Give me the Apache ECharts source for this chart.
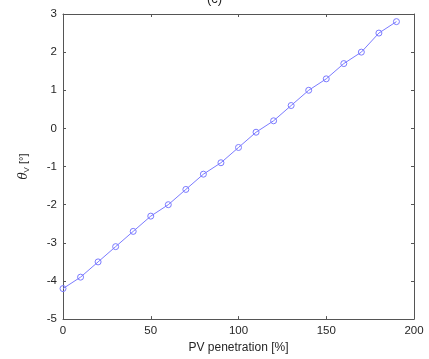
<!DOCTYPE html>
<html><head><meta charset="utf-8">
<script src="https://cdn.jsdelivr.net/npm/echarts@6/dist/echarts.min.js"></script>
<style>html,body{margin:0;padding:0;background:#fff}#c{width:429px;height:359px}</style>
</head><body><div id="c"></div>
<script>
const penetration = [0,10,20,30,40,50,60,70,80,90,100,110,120,130,140,150,160,170,180,190];
const thetaV = [-4.2,-3.9,-3.5,-3.1,-2.7,-2.3,-2.0,-1.6,-1.2,-0.9,-0.5,-0.1,0.2,0.6,1.0,1.3,1.7,2.0,2.5,2.8];
const xTicks = [0,50,100,150,200];
const yTicks = [-5,-4,-3,-2,-1,0,1,2,3];

const chart = echarts.init(document.getElementById('c'), null, {renderer:'canvas'});
const axisCol = '#555555';
const txtCol = '#262626';
const font = 'Liberation Sans, Arial, sans-serif';
const baseX = {
  type:'value', min:xTicks[0], max:xTicks[xTicks.length-1], interval:50,
  axisLine:{show:true, onZero:false, lineStyle:{color:axisCol, width:1}},
  axisTick:{show:true, inside:true, length:3, lineStyle:{color:axisCol}},
  splitLine:{show:false}
};
const baseY = {
  type:'value', min:yTicks[0], max:yTicks[yTicks.length-1], interval:1,
  axisLine:{show:true, onZero:false, lineStyle:{color:axisCol, width:1}},
  axisTick:{show:true, inside:true, length:3, lineStyle:{color:axisCol}},
  splitLine:{show:false}
};
chart.setOption({
  animation:false,
  backgroundColor:'#fff',
  title:{text:'(c)', left:'center', top:-12, textStyle:{fontFamily:font, fontWeight:'normal', fontSize:13, color:txtCol}},
  grid:{left:63, right:15, top:14, bottom:34},
  xAxis:[
    Object.assign({}, baseX, {position:'bottom',
      axisLabel:{color:txtCol, fontFamily:font, fontSize:11.5, margin:6},
      name:'PV penetration [%]', nameLocation:'middle', nameGap:18,
      nameTextStyle:{color:txtCol, fontFamily:font, fontSize:12}}),
    Object.assign({}, baseX, {position:'top', axisLabel:{show:false}})
  ],
  yAxis:[
    Object.assign({}, baseY, {position:'left',
      axisLabel:{color:txtCol, fontFamily:font, fontSize:11.5, margin:6},
      name:'{t|θ}{s|V} [°]', nameLocation:'middle', nameGap:32, nameRotate:90,
      nameTextStyle:{color:txtCol, fontFamily:font, fontSize:11,
        rich:{t:{fontStyle:'italic', fontFamily:'DejaVu Serif, serif', fontSize:12, color:txtCol},
              s:{fontSize:8, color:txtCol, padding:[7,0,0,0]}}}}),
    Object.assign({}, baseY, {position:'right', axisLabel:{show:false}})
  ],
  series:[{
    type:'line',
    data: penetration.map((x,i)=>[x, thetaV[i]]),
    symbol:'circle', symbolSize:6,
    itemStyle:{color:'rgba(0,0,0,0)', borderColor:'#7b7bff', borderWidth:1},
    lineStyle:{color:'#7b7bff', width:1}
  }]
});
</script></body></html>
